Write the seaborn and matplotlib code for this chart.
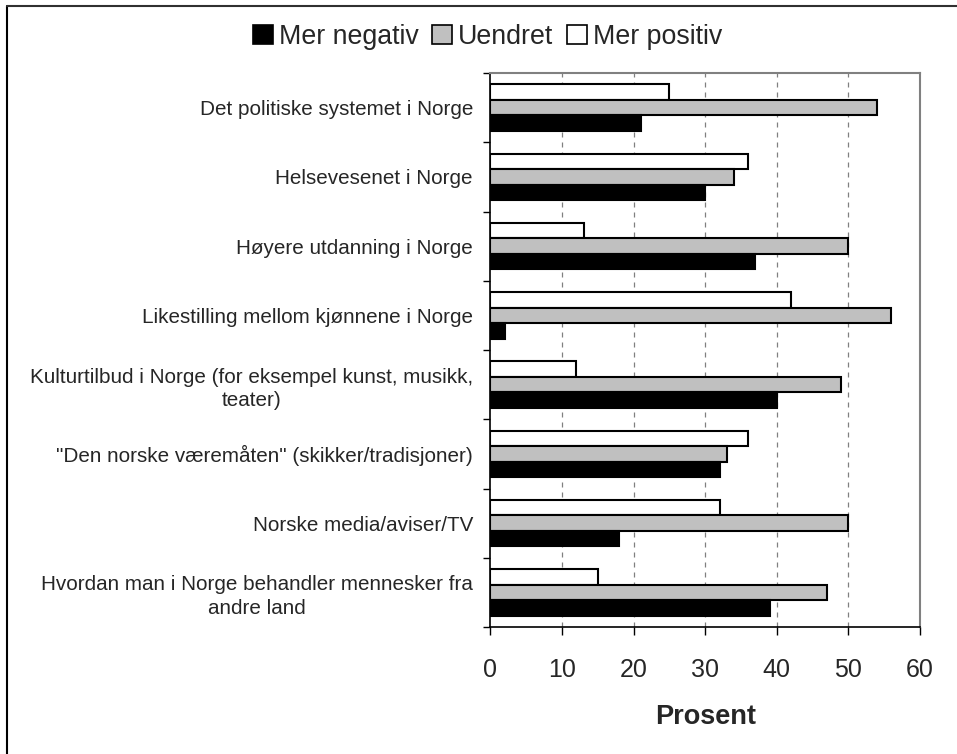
import numpy as np
import pandas as pd
import matplotlib
matplotlib.use("Agg")
import matplotlib.pyplot as plt
from matplotlib.patches import Patch
from matplotlib.lines import Line2D
import seaborn as sns

categories = [
    "Det politiske systemet i Norge",
    "Helsevesenet i Norge",
    "Høyere utdanning i Norge",
    "Likestilling mellom kjønnene i Norge",
    "Kulturtilbud i Norge (for eksempel kunst, musikk,\nteater)",
    "\"Den norske væremåten\" (skikker/tradisjoner)",
    "Norske media/aviser/TV",
    "Hvordan man i Norge behandler mennesker fra\nandre land",
]
mer_negativ = [21, 30, 37, 2, 40, 32, 18, 39]
uendret = [54, 34, 50, 56, 49, 33, 50, 47]
mer_positiv = [25, 36, 13, 42, 12, 36, 32, 15]

series_names = ["Mer negativ", "Uendret", "Mer positiv"]
x_ticks = [0, 10, 20, 30, 40, 50, 60]
x_label = "Prosent"

palette = {"Mer negativ": "#000000", "Uendret": "#C0C0C0", "Mer positiv": "#FFFFFF"}

df = pd.DataFrame({
    "kategori": categories * 3,
    "serie": [series_names[0]] * 8 + [series_names[1]] * 8 + [series_names[2]] * 8,
    "prosent": mer_negativ + uendret + mer_positiv,
})

sns.set_style("white")
plt.rcParams["font.family"] = ["Liberation Sans", "DejaVu Sans"]

fig = plt.figure(figsize=(9.57, 7.54), dpi=100)
ax = fig.add_axes([490.5 / 957, 1 - 627 / 754, (920 - 490.5) / 957, (627 - 73) / 754])

sns.barplot(
    data=df, y="kategori", x="prosent", hue="serie",
    hue_order=["Mer positiv", "Uendret", "Mer negativ"],
    order=categories, palette=palette, orient="h",
    width=0.675, edgecolor="black", linewidth=1.5,
    legend=False, ax=ax, zorder=3,
)

ax.set_xlim(0, 60)
ax.set_ylim(len(categories) - 0.5, -0.5)
ax.set_xticks(x_ticks)
ax.set_xticklabels([str(t) for t in x_ticks], fontsize=18)
ax.tick_params(axis="x", which="major", bottom=True, direction="out",
               length=6, width=1, color="black", pad=16)

ax.set_yticks(np.arange(len(categories)))
ax.set_yticklabels(categories, fontsize=14.9, multialignment="center", linespacing=1.3)
ax.set_yticks(np.arange(-0.5, len(categories), 1), minor=True)
ax.tick_params(axis="y", which="major", left=False, length=0, pad=12.6)
ax.tick_params(axis="y", which="minor", left=True, direction="out",
               length=5, width=1, color="black")
ax.set_ylabel("")

ax.set_xlabel(x_label, fontsize=19.5, fontweight="bold", labelpad=16)

for xv in x_ticks[1:-1]:
    ax.axvline(xv, color="#808080", linestyle=(0, (4, 4)), linewidth=0.9, zorder=1)

for side in ["left", "bottom"]:
    ax.spines[side].set_color("black")
    ax.spines[side].set_linewidth(1.2)
for side in ["top", "right"]:
    ax.spines[side].set_visible(True)
    ax.spines[side].set_color("#808080")
    ax.spines[side].set_linewidth(1.5)

handles = [Patch(facecolor=palette[s], edgecolor="black", linewidth=1.2) for s in series_names]
fig.legend(
    handles, series_names, loc="center", ncol=3, frameon=False,
    bbox_to_anchor=(487.5 / 957, 1 - 37 / 754), fontsize=19.3,
    handlelength=0.75, handleheight=0.75, handletextpad=0.22, columnspacing=0.5,
)

# outer frame (left and top edges)
fx = 6.5 / 957
fy = 1 - 6 / 754
fig.add_artist(Line2D([fx, fx], [0, fy], transform=fig.transFigure, color="black", linewidth=1.5))
fig.add_artist(Line2D([fx, 1], [fy, fy], transform=fig.transFigure, color="#303030", linewidth=1.5))

fig.savefig("out.png", dpi=100)
